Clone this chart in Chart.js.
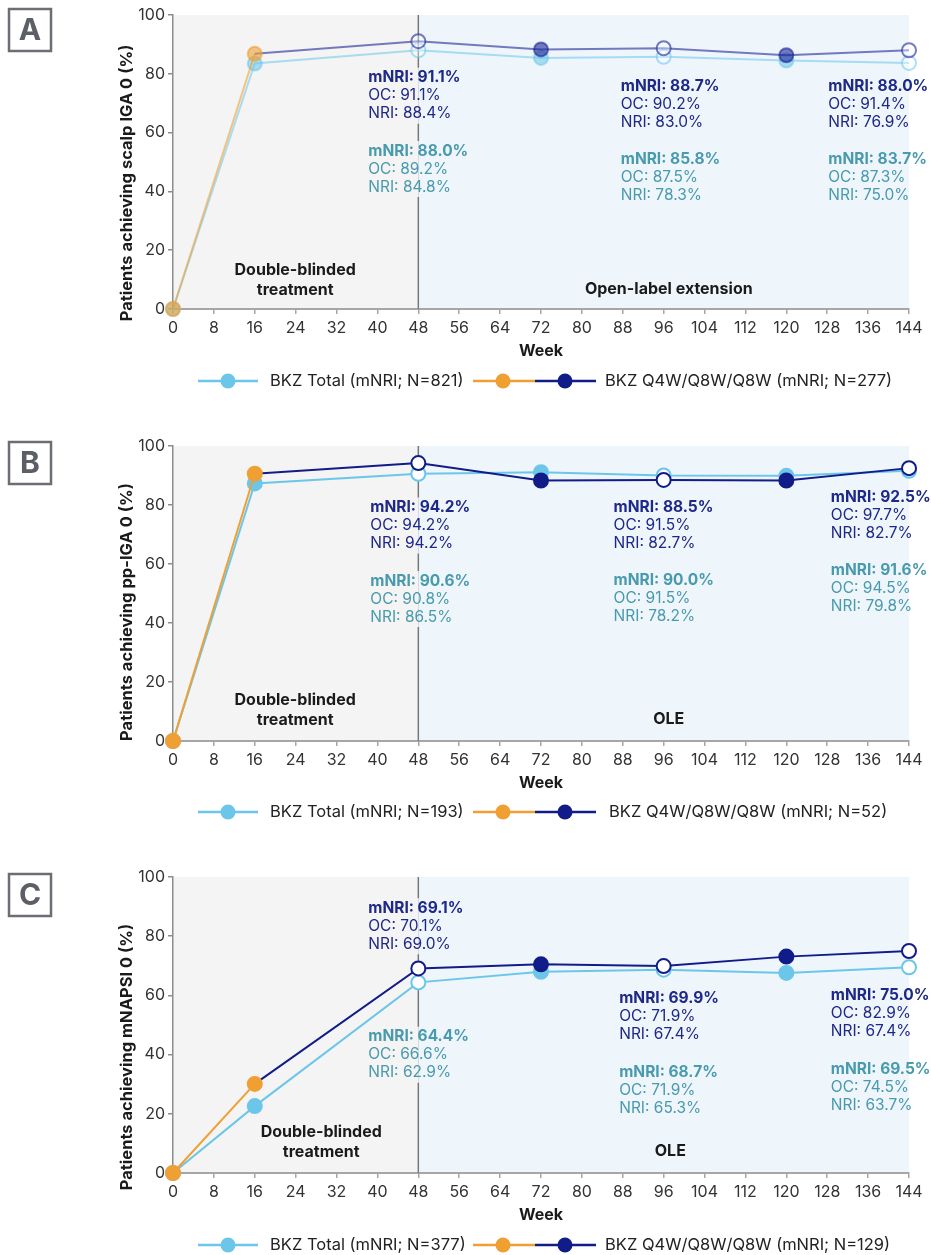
<!DOCTYPE html>
<html>
<head>
<meta charset="utf-8">
<title>BKZ response over 144 weeks</title>
<script src="https://cdn.jsdelivr.net/npm/chart.js@4.4.1/dist/chart.umd.min.js"></script>
<style>
  html, body { margin: 0; padding: 0; background: #ffffff; overflow: hidden; width: 931px; height: 1255px; }
  .panel { position: absolute; left: 0; width: 931px; }
  canvas { display: block; }
</style>
</head>
<body>
<div class="panel" style="top:0px"><canvas id="chartA" width="931" height="411"></canvas></div>
<div class="panel" style="top:431px"><canvas id="chartB" width="931" height="412"></canvas></div>
<div class="panel" style="top:862px"><canvas id="chartC" width="931" height="393"></canvas></div>
<script>
// ---- data -------------------------------------------------------------
const weeks = [0, 16, 48, 72, 96, 120, 144];
const xTickLabels = [0, 8, 16, 24, 32, 40, 48, 56, 64, 72, 80, 88, 96, 104, 112, 120, 128, 136, 144];
const yTickLabels = [0, 20, 40, 60, 80, 100];
const labeledWeeks = [48, 96, 144];
const openWeeks = [48, 96, 144];

// A: scalp IGA 0
const scalpTotal = [0, 83.5, 88.0, 85.4, 85.8, 84.5, 83.7];
const scalpQ4W   = [0, 86.8, 91.1, 88.3, 88.7, 86.3, 88.0];
const scalpTotalOC  = [89.2, 87.5, 87.3];
const scalpTotalNRI = [84.8, 78.3, 75.0];
const scalpQ4WOC    = [91.1, 90.2, 91.4];
const scalpQ4WNRI   = [88.4, 83.0, 76.9];

// B: pp-IGA 0
const ppTotal = [0, 87.3, 90.6, 91.1, 90.0, 89.9, 91.6];
const ppQ4W   = [0, 90.6, 94.2, 88.3, 88.5, 88.3, 92.5];
const ppTotalOC  = [90.8, 91.5, 94.5];
const ppTotalNRI = [86.5, 78.2, 79.8];
const ppQ4WOC    = [94.2, 91.5, 97.7];
const ppQ4WNRI   = [94.2, 82.7, 82.7];

// C: mNAPSI 0
const napsiTotal = [0, 22.6, 64.4, 68.0, 68.7, 67.6, 69.5];
const napsiQ4W   = [0, 30.1, 69.1, 70.5, 69.9, 73.1, 75.0];
const napsiTotalOC  = [66.6, 71.9, 74.5];
const napsiTotalNRI = [62.9, 65.3, 63.7];
const napsiQ4WOC    = [70.1, 71.9, 82.9];
const napsiQ4WNRI   = [69.0, 67.4, 67.4];

// ---- styling ------------------------------------------------------------
const FONT = 'Inter, "Noto Sans", "DejaVu Sans", sans-serif';
const BG_LEFT = '#f4f4f4';
const BG_RIGHT = '#eef6fc';
const LABEL_SIZE = 15.5;
const LINE_GAP = 18;

const strongColors = {
  total: '#6cc6ea', q4w: '#111c88', orange: '#f0a033', open: '#ffffff'
};
const fadedColors = {
  total: 'rgba(108,198,234,0.55)', q4w: 'rgba(30,38,150,0.6)', orange: 'rgba(240,160,51,0.6)', open: 'rgba(255,255,255,0.35)'
};
const labelColors = { q4w: '#1e2888', total: '#4a9aae' };
const legendColors = { total: '#6cc6ea', q4w: '#111c88', orange: '#f0a033' };

function toPoints(values) {
  return weeks.map((w, i) => ({ x: w, y: values[i] }));
}

function paintBackground(ctx, a, x48) {
  ctx.fillStyle = BG_LEFT;
  ctx.fillRect(a.left, a.top, x48 - a.left, a.bottom - a.top);
  ctx.fillStyle = BG_RIGHT;
  ctx.fillRect(x48, a.top, a.right - x48, a.bottom - a.top);
}

// Text annotations, decorations, legend
const decorPlugin = {
  id: 'decor',
  beforeDraw(chart) {
    const { ctx, chartArea: a, scales: { x } } = chart;
    ctx.save();
    paintBackground(ctx, a, x.getPixelForValue(48));
    ctx.restore();
  },
  beforeDatasetsDraw(chart) {
    const { ctx, chartArea: a, scales: { x } } = chart;
    const cfg = chart.options.plugins.decor;
    const x48 = x.getPixelForValue(48);
    ctx.save();
    // phase divider
    ctx.strokeStyle = '#777777';
    ctx.lineWidth = 1.5;
    ctx.beginPath();
    ctx.moveTo(x48, a.top);
    ctx.lineTo(x48, a.bottom);
    ctx.stroke();

    // phase names
    ctx.fillStyle = '#1a1a1a';
    ctx.font = 'bold 16px ' + FONT;
    ctx.textAlign = 'center';
    ctx.textBaseline = 'middle';
    const dbx = x.getPixelForValue(cfg.dbCenter);
    ctx.fillText('Double-blinded', dbx, a.bottom - cfg.dbOffset);
    ctx.fillText('treatment', dbx, a.bottom - cfg.dbOffset + 20);
    ctx.fillText(cfg.oleText, x.getPixelForValue(cfg.oleCenter), a.bottom - cfg.oleOffset);

    // value annotations
    const groups = [
      { key: 'q4w', series: cfg.q4w, oc: cfg.q4wOC, nri: cfg.q4wNRI, pos: cfg.q4wPos },
      { key: 'total', series: cfg.total, oc: cfg.totalOC, nri: cfg.totalNRI, pos: cfg.totalPos }
    ];
    ctx.textAlign = 'left';
    groups.forEach(g => {
      labeledWeeks.forEach((wk, j) => {
        const idx = weeks.indexOf(wk);
        const lx = x.getPixelForValue(g.pos[j][0]);
        const ly = a.top + g.pos[j][1];
        const lines = [
          { t: 'mNRI: ' + g.series[idx].toFixed(1) + '%', bold: true },
          { t: 'OC: ' + g.oc[j].toFixed(1) + '%', bold: false },
          { t: 'NRI: ' + g.nri[j].toFixed(1) + '%', bold: false }
        ];
        let w = 0;
        lines.forEach(l => {
          ctx.font = (l.bold ? 'bold ' : '') + LABEL_SIZE + 'px ' + FONT;
          w = Math.max(w, ctx.measureText(l.t).width);
        });
        // keep the divider from running through the text block
        ctx.save();
        ctx.beginPath();
        ctx.rect(lx - 2, ly - 10, w + 4, LINE_GAP * 2 + 20);
        ctx.clip();
        paintBackground(ctx, a, x48);
        ctx.restore();
        lines.forEach((l, k) => {
          ctx.font = (l.bold ? 'bold ' : '') + LABEL_SIZE + 'px ' + FONT;
          ctx.fillStyle = labelColors[g.key];
          ctx.fillText(l.t, lx, ly + k * LINE_GAP);
        });
      });
    });
    ctx.restore();
  },
  afterDraw(chart) {
    const { ctx, chartArea: a } = chart;
    const cfg = chart.options.plugins.decor;
    ctx.save();
    // y-axis title
    ctx.save();
    ctx.translate(127, a.top + cfg.yTitleCenter);
    ctx.rotate(-Math.PI / 2);
    ctx.fillStyle = '#1a1a1a';
    ctx.font = 'bold 16.5px ' + FONT;
    ctx.textAlign = 'center';
    ctx.textBaseline = 'middle';
    ctx.fillText(cfg.yTitle, 0, 0);
    ctx.restore();

    // panel letter
    const by = a.top + cfg.boxOffset;
    ctx.strokeStyle = '#6b6e73';
    ctx.lineWidth = 2.5;
    ctx.strokeRect(9, by + 1, 42, 42);
    ctx.fillStyle = '#5c6066';
    ctx.font = 'bold 30px ' + FONT;
    ctx.textAlign = 'center';
    ctx.textBaseline = 'middle';
    ctx.fillText(cfg.letter, 30, by + 23);

    // legend
    const ly = a.bottom + cfg.legendOffset;
    const ds = chart.data.datasets;
    ctx.lineWidth = 2.5;
    ctx.strokeStyle = legendColors.total;
    ctx.beginPath(); ctx.moveTo(198, ly); ctx.lineTo(258, ly); ctx.stroke();
    ctx.fillStyle = legendColors.total;
    ctx.beginPath(); ctx.arc(228, ly, 7.5, 0, Math.PI * 2); ctx.fill();

    ctx.strokeStyle = legendColors.orange;
    ctx.beginPath(); ctx.moveTo(473, ly); ctx.lineTo(535, ly); ctx.stroke();
    ctx.fillStyle = legendColors.orange;
    ctx.beginPath(); ctx.arc(503, ly, 7.5, 0, Math.PI * 2); ctx.fill();
    ctx.strokeStyle = legendColors.q4w;
    ctx.beginPath(); ctx.moveTo(535, ly); ctx.lineTo(596, ly); ctx.stroke();
    ctx.fillStyle = legendColors.q4w;
    ctx.beginPath(); ctx.arc(565, ly, 7.5, 0, Math.PI * 2); ctx.fill();

    ctx.fillStyle = '#222222';
    ctx.font = '16.5px ' + FONT;
    ctx.textAlign = 'left';
    ctx.fillText(ds[1].label, 270, ly);
    ctx.fillText(ds[0].label, cfg.legendX2, ly);
    ctx.restore();
  }
};

function makeChart(id, spec) {
  const c = spec.faded ? fadedColors : strongColors;
  const pointFill = (base, ctx) => {
    const w = weeks[ctx.dataIndex];
    if (openWeeks.includes(w)) return c.open;
    return base;
  };
  const q4wPointColor = (ctx, isFill) => {
    const w = weeks[ctx.dataIndex];
    if (w <= 16) return c.orange;
    if (isFill && openWeeks.includes(w)) return c.open;
    return c.q4w;
  };
  const tickSetter = (vals) => (scale) => { scale.ticks = vals.map(v => ({ value: v })); };

  return new Chart(document.getElementById(id), {
    type: 'line',
    data: {
      datasets: [
        {
          label: spec.q4wLabel,
          data: toPoints(spec.q4w),
          order: 0,
          clip: false,
          borderColor: c.q4w,
          borderWidth: 2,
          segment: {
            borderColor: ctx => (ctx.p1.parsed.x <= 16 ? c.orange : c.q4w)
          },
          pointRadius: 7,
          pointHoverRadius: 7,
          pointBorderWidth: 2,
          pointBackgroundColor: ctx => q4wPointColor(ctx, true),
          pointBorderColor: ctx => q4wPointColor(ctx, false)
        },
        {
          label: spec.totalLabel,
          data: toPoints(spec.total),
          order: 1,
          clip: false,
          borderColor: c.total,
          borderWidth: 2,
          pointRadius: 7,
          pointHoverRadius: 7,
          pointBorderWidth: 2,
          pointBackgroundColor: ctx => pointFill(c.total, ctx),
          pointBorderColor: c.total
        }
      ]
    },
    options: {
      responsive: false,
      animation: false,
      events: [],
      layout: { padding: { top: 15, right: 22, bottom: spec.padBottom, left: 114 } },
      scales: {
        x: {
          type: 'linear',
          min: 0, max: 144,
          afterBuildTicks: tickSetter(xTickLabels),
          afterFit: s => { s.height = 56; },
          border: { display: true, color: '#a6a6a6', width: 2 },
          grid: { drawOnChartArea: false, drawTicks: true, tickLength: 5, color: '#a6a6a6', lineWidth: 1.5 },
          ticks: { autoSkip: false, maxRotation: 0, padding: 5, color: '#333333', font: { family: FONT, size: 16 } },
          title: { display: true, text: 'Week', color: '#1a1a1a', font: { family: FONT, size: 16, weight: 'bold' }, padding: { top: 4, bottom: 4 } }
        },
        y: {
          min: 0, max: 100,
          afterBuildTicks: tickSetter(yTickLabels),
          afterFit: s => { s.width = 59; },
          border: { display: true, color: '#8c8c8c', width: 1.5 },
          grid: { drawOnChartArea: false, drawTicks: true, tickLength: 5, color: '#8c8c8c', lineWidth: 1.5 },
          ticks: { padding: 3, color: '#333333', font: { family: FONT, size: 16 } },
          title: { display: false }
        }
      },
      plugins: {
        legend: { display: false },
        tooltip: { enabled: false },
        decor: spec.decor
      }
    },
    plugins: [decorPlugin]
  });
}

makeChart('chartA', {
  faded: true,
  total: scalpTotal, q4w: scalpQ4W,
  totalLabel: 'BKZ Total (mNRI; N=821)',
  q4wLabel: 'BKZ Q4W/Q8W/Q8W (mNRI; N=277)',
  padBottom: 46,
  decor: {
    letter: 'A', boxOffset: -7, legendOffset: 72, legendX2: 605,
    yTitle: 'Patients achieving scalp IGA 0 (%)', yTitleCenter: 168,
    dbCenter: 23.9, dbOffset: 39, oleCenter: 97, oleOffset: 20, oleText: 'Open-label extension',
    total: scalpTotal, totalOC: scalpTotalOC, totalNRI: scalpTotalNRI,
    q4w: scalpQ4W, q4wOC: scalpQ4WOC, q4wNRI: scalpQ4WNRI,
    q4wPos: [[38.2, 62.7], [87.6, 71], [128.2, 71]],
    totalPos: [[38.2, 136], [87.6, 144], [128.2, 144]]
  }
});

makeChart('chartB', {
  faded: false,
  total: ppTotal, q4w: ppQ4W,
  totalLabel: 'BKZ Total (mNRI; N=193)',
  q4wLabel: 'BKZ Q4W/Q8W/Q8W (mNRI; N=52)',
  padBottom: 46,
  decor: {
    letter: 'B', boxOffset: -5, legendOffset: 71, legendX2: 609,
    yTitle: 'Patients achieving pp-IGA 0 (%)', yTitleCenter: 166,
    dbCenter: 23.9, dbOffset: 41, oleCenter: 97, oleOffset: 22, oleText: 'OLE',
    total: ppTotal, totalOC: ppTotalOC, totalNRI: ppTotalNRI,
    q4w: ppQ4W, q4wOC: ppQ4WOC, q4wNRI: ppQ4WNRI,
    q4wPos: [[38.6, 61.5], [86.2, 61.3], [128.7, 51.3]],
    totalPos: [[38.6, 135], [86.2, 134.7], [128.7, 124.7]]
  }
});

makeChart('chartC', {
  faded: false,
  total: napsiTotal, q4w: napsiQ4W,
  totalLabel: 'BKZ Total (mNRI; N=377)',
  q4wLabel: 'BKZ Q4W/Q8W/Q8W (mNRI; N=129)',
  padBottom: 26,
  decor: {
    letter: 'C', boxOffset: -4, legendOffset: 72, legendX2: 605,
    yTitle: 'Patients achieving mNAPSI 0 (%)', yTitleCenter: 180,
    dbCenter: 29, dbOffset: 41, oleCenter: 97.3, oleOffset: 22, oleText: 'OLE',
    total: napsiTotal, totalOC: napsiTotalOC, totalNRI: napsiTotalNRI,
    q4w: napsiQ4W, q4wOC: napsiQ4WOC, q4wNRI: napsiQ4WNRI,
    q4wPos: [[38.2, 31.3], [87.3, 121.3], [128.7, 118]],
    totalPos: [[38.2, 159.7], [87.3, 195.3], [128.7, 192]]
  }
});
</script>
</body>
</html>
